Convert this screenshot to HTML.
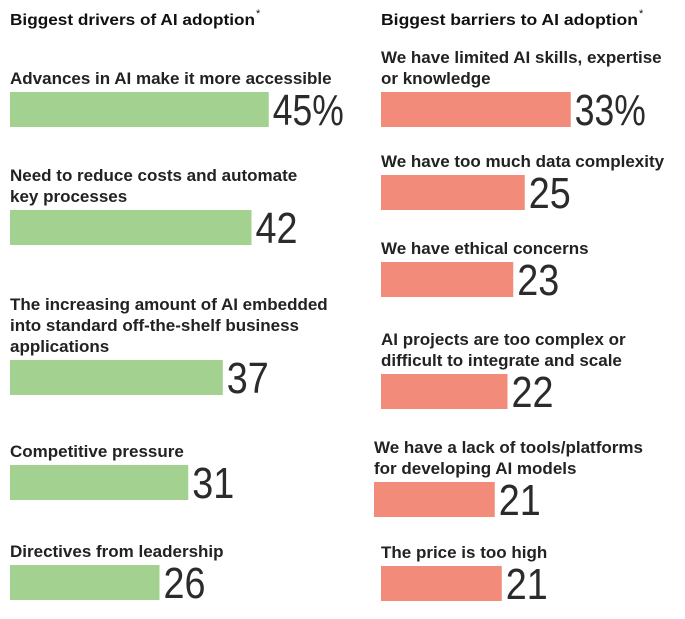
<!DOCTYPE html>
<html><head><meta charset="utf-8"><style>
body{margin:0;background:#fff;}
svg{display:block;font-family:"Liberation Sans",sans-serif;}
.lab{font-weight:bold;font-size:17px;fill:#222;}
.ttl{font-weight:bold;font-size:16px;fill:#111;}
.val{font-size:44px;fill:#2b2b2b;}
</style></head><body>
<svg id="chart" width="685" height="619" viewBox="0 0 685 619">
<text class="ttl" x="10" y="25" textLength="245" lengthAdjust="spacingAndGlyphs">Biggest drivers of AI adoption</text>
<text x="256" y="17" font-size="11" fill="#111">*</text>
<text class="ttl" x="381" y="25" textLength="257" lengthAdjust="spacingAndGlyphs">Biggest barriers to AI adoption</text>
<text x="639" y="17" font-size="11" fill="#111">*</text>
<g id="g"></g>
</svg>
<script>
const driverLabels=[["Advances in AI make it more accessible"],["Need to reduce costs and automate","key processes"],["The increasing amount of AI embedded","into standard off-the-shelf business","applications"],["Competitive pressure"],["Directives from leadership"]];
const driverValues=[45,42,37,31,26];
const driverText=["45%","42","37","31","26"];
const barrierLabels=[["We have limited AI skills, expertise","or knowledge"],["We have too much data complexity"],["We have ethical concerns"],["AI projects are too complex or","difficult to integrate and scale"],["We have a lack of tools/platforms","for developing AI models"],["The price is too high"]];
const barrierValues=[33,25,23,22,21,21];
const barrierText=["33%","25","23","22","21","21"];
// layout
const driverBarY=[92,210,360,465,565];
const barrierBarY=[92,175,262,374,482,566];
const barrierX0=[381,381,381,381,374,381];
const pxPer=5.75;
const x=v=>v*pxPer;
const NS="http://www.w3.org/2000/svg";
const g=document.getElementById('g');
function draw(labels,values,texts,ys,x0s,color,side){
  values.forEach((v,i)=>{
    const y=ys[i],x0=x0s[i];
    labels[i].forEach((line,j)=>{
      const t=document.createElementNS(NS,'text');
      t.setAttribute('class','lab');
      t.setAttribute('x',x0);
      t.setAttribute('y',y-8-(labels[i].length-1-j)*21);
      t.textContent=line;
      
      
      g.appendChild(t);
    });
    const r=document.createElementNS(NS,'rect');
    r.setAttribute('x',x0);r.setAttribute('y',y);
    r.setAttribute('width',x(v));r.setAttribute('height',35);
    r.setAttribute('fill',color);
    
    
    g.appendChild(r);
    const n=document.createElementNS(NS,'text');
    n.setAttribute('class','val');
    n.setAttribute('x',x0+x(v)+4);
    n.setAttribute('y',y+33);
    n.setAttribute('textLength',texts[i].length===3?71:42);
    n.setAttribute('lengthAdjust','spacingAndGlyphs');
    n.textContent=texts[i];
    
    
    g.appendChild(n);
  });
}
draw(driverLabels,driverValues,driverText,driverBarY,[10,10,10,10,10],'#a3d18f','d');
draw(barrierLabels,barrierValues,barrierText,barrierBarY,barrierX0,'#f28b79','b');
</script>
</body></html>
